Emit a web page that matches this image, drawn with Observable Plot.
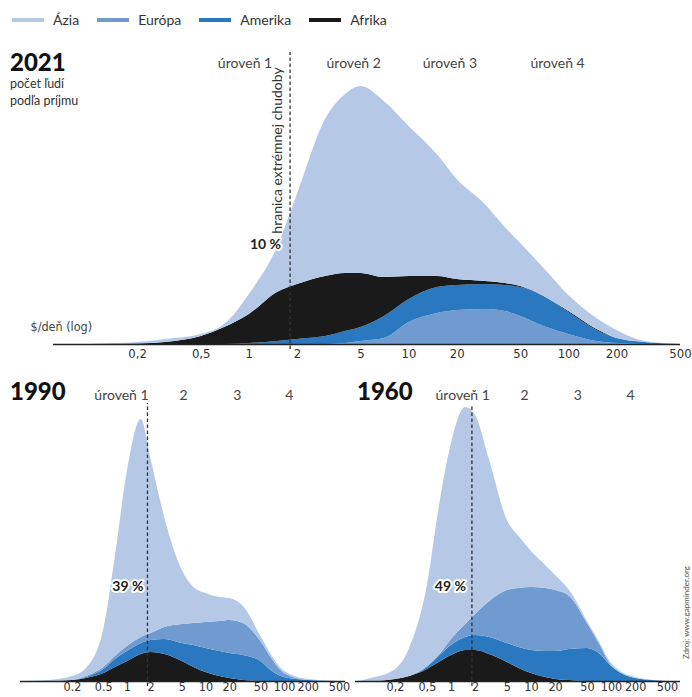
<!DOCTYPE html>
<html><head><meta charset="utf-8">
<script src="https://cdn.jsdelivr.net/npm/d3@7"></script>
<script src="https://cdn.jsdelivr.net/npm/@observablehq/plot@0.6"></script>
<style>
html,body{margin:0;padding:0;background:#fff;}
#wrap{position:relative;width:692px;height:697px;overflow:hidden;font-family:Lato,"Open Sans",sans-serif;color:#333;}
.abs{position:absolute;}
.year{font-family:Lato,"DejaVu Sans",sans-serif;font-weight:900;font-size:24px;line-height:26px;color:#111;}
.sub{font-size:12.5px;line-height:17px;color:#333;}
#legend{position:absolute;left:12px;top:11px;display:flex;align-items:center;font-size:14px;color:#333;}
#legend .it{display:flex;align-items:center;margin-right:18px;}
#legend .sw{width:32px;height:4px;margin-right:9px;}
#src{position:absolute;left:681px;top:566px;font-size:8px;color:#555;writing-mode:vertical-rl;transform:rotate(180deg);white-space:nowrap;}
svg{overflow:visible;}
</style></head><body>
<div id="wrap">
  <div id="legend"></div>
  <div class="abs year" style="left:10px;top:49px">2021</div>
  <div class="abs sub" style="left:10px;top:75px">počet ľudí<br>podľa príjmu</div>
  <div class="abs year" style="left:10px;top:378px">1990</div>
  <div class="abs year" style="left:357px;top:378px">1960</div>
  <div id="p2021" class="abs" style="left:0;top:40px"></div>
  <div id="p1990" class="abs" style="left:0;top:375px"></div>
  <div id="p1960" class="abs" style="left:350px;top:375px"></div>
  <div id="src">Zdroj: www.gapminder.org</div>
</div>
<script>
const regions = ["Ázia", "Európa", "Amerika", "Afrika"];
const regionColors = ["#b5c9e7", "#6f9bd0", "#2a78bf", "#1b1a1b"];
const tickValues = [0.2, 0.5, 1, 2, 5, 10, 20, 50, 100, 200, 500];
const povertyLine = 1.8;
const axisLabel = "$/deň (log)";
const povertyLabel = "hranica extrémnej chudoby";

// 2021 (layer thickness, relative number of people)
const income2021 = [0.1, 0.2, 0.3, 0.5, 0.7, 1, 1.5, 2, 3, 4, 5, 7, 10, 15, 20, 30, 40, 50, 70, 100, 150, 200, 300, 500];
const europa2021  = [0, 0, 0, 0, 0, 0, 0, 0, 0, 1, 3, 6, 22, 31, 34, 35, 33, 28, 18, 10, 3, 1, 0, 0];
const amerika2021 = [0, 0, 0, 0, 0, 1, 3, 5, 8, 12, 14, 22, 23, 26, 25, 25, 26, 29, 30, 22, 11, 5, 2, 0];
const afrika2021  = [0, 0.5, 2, 8, 17, 29, 49, 55, 60, 58, 54, 39, 23, 11, 6, 3, 2, 1, 0, 1, 1, 0, 0, 0];
const azia2021    = [0, 1.5, 3, 2, 3, 20, 45, 90, 157, 179, 187, 176, 150, 122, 100, 77, 56, 43, 28, 16, 11, 8, 1, 0];
const order2021 = ["Európa", "Amerika", "Afrika", "Ázia"];
const levels2021 = ["úroveň 1", "úroveň 2", "úroveň 3", "úroveň 4"];
const levelPos2021 = [0.94, 4.5, 18, 85];
const share2021 = "10 %";

// 1990
const income1990 = [0.05, 0.1, 0.2, 0.3, 0.5, 0.7, 1, 1.5, 2, 3, 5, 7, 10, 15, 20, 30, 50, 70, 100, 200, 500];
const afrika1990  = [0, 0, 1, 3, 8, 14, 20, 27, 29, 27, 20, 14, 9, 5, 3, 1, 0, 0, 0, 0, 0];
const amerika1990 = [0, 0, 0, 1, 4, 8, 10, 11, 12, 15, 18, 22, 24, 25, 25, 25, 20, 10, 4, 1, 0];
const europa1990  = [0, 0, 0, 1, 2, 3, 5, 6, 7, 12, 19, 22, 26, 30, 33, 32, 20, 12, 4, 0, 0];
const azia1990    = [0, 1, 4, 8, 38, 99, 175, 218, 174, 109, 54, 36, 29, 24, 22, 17, 5, 3, 2, 1, 0];
const order1990 = ["Afrika", "Amerika", "Európa", "Ázia"];
const levels1990 = ["úroveň 1", "2", "3", "4"];
const levelPos1990 = [0.84, 5.2, 25, 115];
const share1990 = "39 %";

// 1960
const income1960 = [0.07, 0.1, 0.2, 0.3, 0.5, 0.7, 1, 1.5, 2, 3, 5, 7, 10, 15, 20, 30, 50, 70, 100, 200, 500];
const afrika1960  = [0, 0, 2, 5, 12, 19, 26, 31, 31, 27, 19, 13, 8, 4, 2, 1, 0, 0, 0, 0, 0];
const amerika1960 = [0, 0, 0, 0, 2, 6, 10, 13, 15, 17, 19, 21, 23, 26, 28, 31, 33, 28, 15, 3, 0];
const europa1960  = [0, 0, 0, 0, 1, 1, 6, 13, 21, 36, 53, 59, 63, 63, 61, 53, 25, 10, 1, 0, 0];
const azia1960    = [0, 3, 10, 28, 81, 147, 196, 217, 199, 141, 70, 52, 36, 23, 15, 6, 2, 2, 2, 1, 0];
const order1960 = ["Afrika", "Amerika", "Európa", "Ázia"];
const levels1960 = ["úroveň 1", "2", "3", "4"];
const levelPos1960 = [1.38, 8.2, 38, 173];
const share1960 = "49 %";

// legend
const legend = document.getElementById("legend");
regions.forEach((r, i) => {
  const it = document.createElement("div"); it.className = "it";
  const sw = document.createElement("div"); sw.className = "sw"; sw.style.background = regionColors[i];
  const tx = document.createElement("span"); tx.textContent = r;
  it.appendChild(sw); it.appendChild(tx); legend.appendChild(it);
});

function table(income, series) {
  return Object.entries(series).flatMap(([region, vals]) => income.map((x, i) => ({x, v: vals[i], region})));
}
const comma = d => String(d).replace(".", ",");
const dot = d => String(d);
const tickFont = "'Liberation Sans Narrow','DejaVu Sans Condensed','Roboto',sans-serif";

function panel(o) {
  const marks = [
    Plot.areaY(o.data, {x: "x", y: "v", fill: "region", order: o.order, curve: "monotone-x"}),
    Plot.ruleY([0], {stroke: "#222", strokeWidth: 1.5}),
    Plot.ruleX([povertyLine], {y1: -5, y2: o.ruleTop, stroke: "#333", strokeWidth: 1.3, strokeDasharray: "3.5,2.5"}),
    Plot.text(tickValues, {x: d => d, text: o.fmt, frameAnchor: "bottom", dy: o.tickDy, fontSize: o.tickSize, fontFamily: tickFont, fill: "#333"}),
    Plot.text(o.levels, {x: o.levelPos, text: d => d, frameAnchor: "top", dy: o.levelDy, fontSize: 14, fontFamily: "Lato, 'Open Sans', sans-serif", fill: "#444"}),
    Plot.text([o.share], {x: [povertyLine], text: d => d, frameAnchor: "bottom", dy: o.shareDy, dx: o.shareDx, textAnchor: "end", fontSize: 14, fontWeight: "bold", fontFamily: "Lato, sans-serif", fill: "white", stroke: "white", strokeWidth: 4}),
    Plot.text([o.share], {x: [povertyLine], text: d => d, frameAnchor: "bottom", dy: o.shareDy, dx: o.shareDx, textAnchor: "end", fontSize: 14, fontWeight: "bold", fontFamily: "Lato, sans-serif", fill: "#222"}),
    ...(o.extra || [])
  ];
  return Plot.plot({
    width: o.width, height: o.height,
    marginLeft: o.marginLeft, marginRight: o.marginRight, marginTop: 0, marginBottom: o.marginBottom,
    style: {fontFamily: tickFont, fontSize: "12.5px", color: "#333", background: "transparent", overflow: "visible"},
    x: {type: "log", domain: o.domain, axis: null},
    y: {domain: [0, o.yMax], axis: null},
    color: {domain: regions, range: regionColors},
    marks
  });
}

document.getElementById("p2021").appendChild(panel({
  data: table(income2021, {"Európa": europa2021, "Amerika": amerika2021, "Afrika": afrika2021, "Ázia": azia2021}),
  order: order2021, domain: [0.0595, 500], width: 692, height: 330,
  marginLeft: 53, marginRight: 12, marginBottom: 26, yMax: 304, fmt: comma, tickDy: 13, tickSize: 13,
  levels: levels2021, levelPos: levelPos2021, levelDy: 18, share: share2021, shareDy: -96, shareDx: -9, ruleTop: 292,
  extra: [
    Plot.text([axisLabel], {frameAnchor: "bottom-left", dx: -23, dy: -14, textAnchor: "start", fontSize: 12.5, fill: "#444"}),
    Plot.text([povertyLabel], {x: [povertyLine], text: d => d, frameAnchor: "bottom", dy: -194, dx: -8, rotate: -90, fontSize: 14, fontFamily: "Lato, 'Open Sans', sans-serif", fill: "#333"})
  ]
}));

document.getElementById("p1990").appendChild(panel({
  data: table(income1990, {"Afrika": afrika1990, "Amerika": amerika1990, "Európa": europa1990, "Ázia": azia1990}),
  order: order1990, domain: [0.0436, 596], width: 350, height: 322,
  marginLeft: 20, marginRight: 5, marginBottom: 16, yMax: 306, fmt: dot, tickDy: 9, tickSize: 12.5,
  levels: levels1990, levelPos: levelPos1990, levelDy: 15, share: share1990, shareDy: -91, shareDx: -4, ruleTop: 278
}));

document.getElementById("p1960").appendChild(panel({
  data: table(income1960, {"Afrika": afrika1960, "Amerika": amerika1960, "Európa": europa1960, "Ázia": azia1960}),
  order: order1960, domain: [0.0632, 727], width: 342, height: 322,
  marginLeft: 5, marginRight: 12, marginBottom: 16, yMax: 306, fmt: comma, tickDy: 9, tickSize: 12.5,
  levels: levels1960, levelPos: levelPos1960, levelDy: 15, share: share1960, shareDy: -91, shareDx: -6, ruleTop: 276
}));
</script>
</body></html>
